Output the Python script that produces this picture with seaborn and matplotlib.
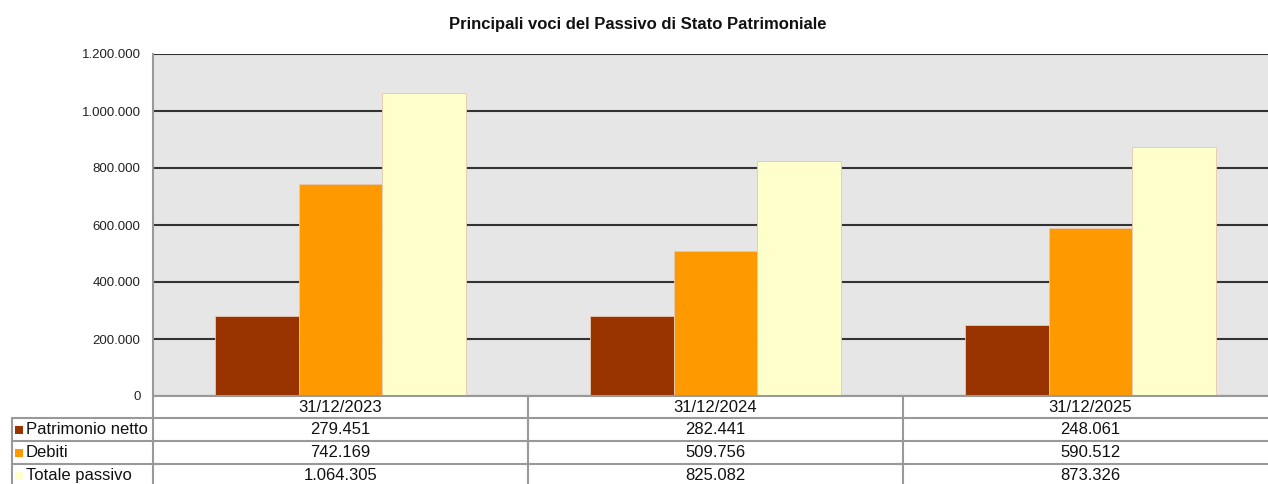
import numpy as np
import pandas as pd
import seaborn as sns
import matplotlib.pyplot as plt
from matplotlib.transforms import blended_transform_factory

date_labels = ['31/12/2023', '31/12/2024', '31/12/2025']
series_names = ['Patrimonio netto', 'Debiti', 'Totale passivo']
patrimonio_netto = [279451, 282441, 248061]
debiti = [742169, 509756, 590512]
totale_passivo = [1064305, 825082, 873326]
y_ticks = [0, 200000, 400000, 600000, 800000, 1000000, 1200000]

colors = ['#993300', '#FF9900', '#FFFFCC']


def fmt(v):
    return f"{v:,}".replace(',', '.')


df = pd.DataFrame({
    'data': date_labels * 3,
    'voce': np.repeat(series_names, 3),
    'valore': patrimonio_netto + debiti + totale_passivo,
})

sns.set_theme(style='white')
plt.rcParams['font.family'] = ['Liberation Sans', 'DejaVu Sans']

W, H = 1268, 484
fig = plt.figure(figsize=(W / 100, H / 100), dpi=100)

# plot area runs past the right edge, as in the original
ax = fig.add_axes([153 / W, (H - 396) / H, 1125 / W, 342 / H])
ax.set_facecolor('#e6e6e6')
sns.barplot(data=df, x='data', y='valore', hue='voce', palette=colors,
            width=0.667, gap=0, saturation=1, edgecolor='#e8c8b0', linewidth=0.6,
            legend=False, ax=ax)
ax.set_ylim(0, 1200000)
ax.set_yticks(y_ticks)
ax.set_yticklabels([fmt(t) for t in y_ticks], fontsize=9.5, color='#222222')
ax.set_xticks([])
ax.set_xlabel('')
ax.set_ylabel('')
ax.set_axisbelow(True)
ax.yaxis.grid(True, color='#333333', linewidth=1.5)
ax.tick_params(axis='y', length=0, pad=9)
for s in ['top', 'right']:
    ax.spines[s].set_visible(False)
for s in ['left', 'bottom']:
    ax.spines[s].set_color('#999999')
    ax.spines[s].set_linewidth(1.5)

fig.text(638 / W, 1 - 24 / H, 'Principali voci del Passivo di Stato Patrimoniale',
         ha='center', va='center', fontsize=12, fontweight='bold', color='#111111')

# data table under the plot, drawn in pixel coordinates
ov = fig.add_axes([0, 0, 1, 1], facecolor='none')
ov.set_xlim(0, W)
ov.set_ylim(H, 0)
ov.axis('off')
tr = blended_transform_factory(ax.transData, ov.transData)

lc = '#999999'
row_y = [418, 441, 464, 487]
for y in row_y:
    ov.plot([12, 1280], [y, y], color=lc, lw=1.5, clip_on=False)
for x in [153, 528, 903]:
    ov.plot([x, x], [396, 490], color=lc, lw=1.5, clip_on=False)
ov.plot([12, 12], [418, 490], color=lc, lw=1.5, clip_on=False)

fs = 12
for i, d in enumerate(date_labels):
    ov.text(i, 407.5, d, transform=tr, ha='center', va='center', fontsize=fs, color='#111111')

rows = [patrimonio_netto, debiti, totale_passivo]
for r, (name, vals, c) in enumerate(zip(series_names, rows, colors)):
    yc = (row_y[r] + row_y[r + 1]) / 2
    ov.scatter([18.5], [yc], marker='s', s=30, color=c, linewidths=0)
    ov.text(26, yc, name, ha='left', va='center', fontsize=fs, color='#111111')
    for i, v in enumerate(vals):
        ov.text(i, yc, fmt(v), transform=tr, ha='center', va='center', fontsize=fs, color='#111111')

fig.savefig('out.png', dpi=100)
